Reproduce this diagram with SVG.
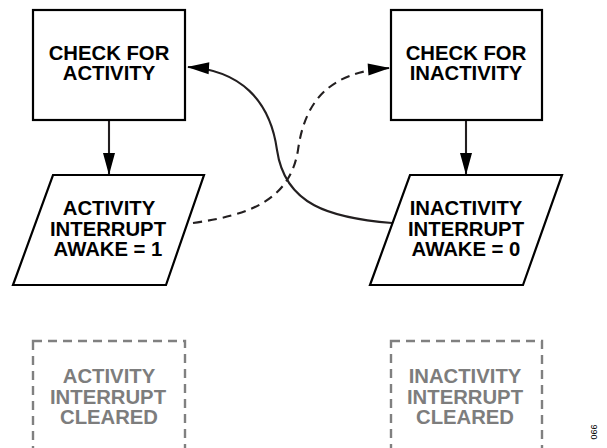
<svg xmlns="http://www.w3.org/2000/svg" width="607" height="448" viewBox="0 0 607 448">
<style>
.box{fill:#fff;stroke:#000;stroke-width:2.2}
.gbox{fill:none;stroke:#808080;stroke-width:2.4;stroke-dasharray:9,6}
.t{font-family:"Liberation Sans",Arial,sans-serif;font-weight:bold;font-size:20.3px;text-anchor:middle;fill:#000}
.g{fill:#7d7d7d}
.c{fill:none;stroke:#231f20;stroke-width:2.1}
.d{stroke-dasharray:9,6}
.n{font-family:"Liberation Sans",Arial,sans-serif;font-size:9px;text-anchor:middle;fill:#000}
</style>
<defs>
<marker id="ah" markerUnits="userSpaceOnUse" markerWidth="22" markerHeight="12" refX="21" refY="6" orient="auto" overflow="visible">
<path d="M0,0 L22,6 L0,12 Z" fill="#000" stroke="none"/>
</marker>
</defs>
<g id="connectors">
<path class="c" d="M109,120 L109,174" marker-end="url(#ah)"/>
<path class="c" d="M466,120 L466,174" marker-end="url(#ah)"/>
<path class="c" d="M392,223 C330,218 285,205 277,150 C270,100 240,70 188,67" marker-end="url(#ah)"/>
<path class="c d" d="M193,223 C250,215 290,200 298,150 C305,100 330,72 389,68" marker-end="url(#ah)"/>
</g>
<g id="check-activity">
<rect class="box" x="33" y="10" width="152" height="110"/>
<text class="t" x="109" y="60">CHECK FOR</text>
<text class="t" x="109" y="80">ACTIVITY</text>
</g>
<g id="check-inactivity">
<rect class="box" x="391" y="10" width="151" height="110"/>
<text class="t" x="466" y="60">CHECK FOR</text>
<text class="t" x="466" y="80">INACTIVITY</text>
</g>
<g id="activity-interrupt">
<polygon class="box" points="53,175 204,175 166,285 13,285"/>
<text class="t" x="109" y="215">ACTIVITY</text>
<text class="t" x="108" y="235.5">INTERRUPT</text>
<text class="t" x="108" y="256">AWAKE = 1</text>
</g>
<g id="inactivity-interrupt">
<polygon class="box" points="410,175 562,175 523,285 370,285"/>
<text class="t" x="466" y="215">INACTIVITY</text>
<text class="t" x="466" y="235.5">INTERRUPT</text>
<text class="t" x="466" y="256">AWAKE = 0</text>
</g>
<g id="activity-cleared">
<rect class="gbox" x="33" y="341" width="152" height="130"/>
<text class="t g" x="109" y="383">ACTIVITY</text>
<text class="t g" x="108" y="403.5">INTERRUPT</text>
<text class="t g" x="109" y="424">CLEARED</text>
</g>
<g id="inactivity-cleared">
<rect class="gbox" x="391" y="341" width="151" height="130"/>
<text class="t g" x="465" y="383">INACTIVITY</text>
<text class="t g" x="465" y="403.5">INTERRUPT</text>
<text class="t g" x="465" y="424">CLEARED</text>
</g>
<text class="n" transform="translate(597,432) rotate(-90)">066</text>
</svg>
